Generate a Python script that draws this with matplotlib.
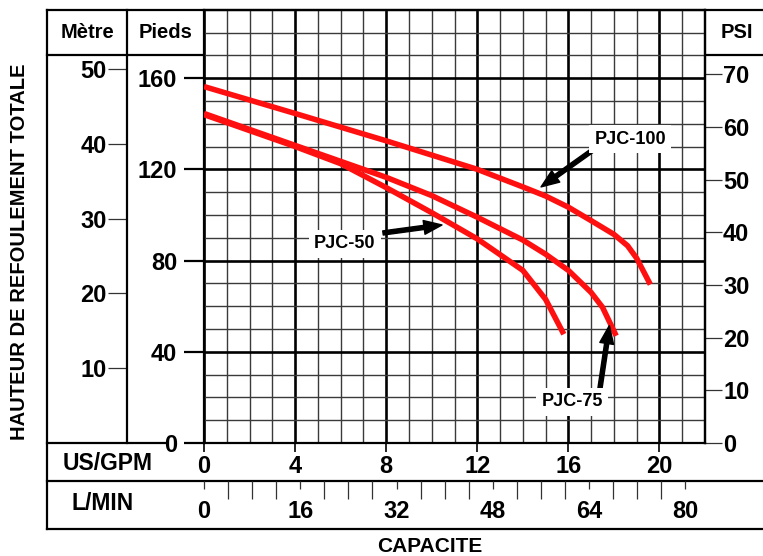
import matplotlib
matplotlib.use('Agg')
import matplotlib.pyplot as plt
from matplotlib.ticker import MultipleLocator

plt.rcParams['font.family'] = ['Liberation Sans', 'DejaVu Sans']
plt.rcParams['font.weight'] = 'bold'

# pump curves: capacity in US GPM, head in feet
gpm_100 = [0, 4, 8, 12, 14, 15, 16, 17, 18, 18.6, 19, 19.6]
ft_100 = [156.3, 144.5, 132.5, 120, 112.3, 108.3, 103.4, 97.5, 91.5, 86.5, 81, 69.5]
gpm_75 = [0, 4, 6, 8, 10, 12, 14, 15, 16, 17, 17.5, 18.1]
ft_75 = [144.5, 130.5, 123.5, 116.5, 108.5, 99, 89, 82.8, 75.7, 66, 59.5, 47]
gpm_50 = [0, 4, 6, 8, 10, 12, 14, 15, 15.8]
ft_50 = [144, 130, 122.5, 112, 101, 89.5, 75.7, 63, 47.7]

gpm_ticks = [0, 4, 8, 12, 16, 20]
ft_ticks = [0, 40, 80, 120, 160]
m_ticks = [10, 20, 30, 40, 50]
psi_ticks = [0, 10, 20, 30, 40, 50, 60, 70]
lpm_ticks = [0, 16, 32, 48, 64, 80]

FT_PER_M = 3.281
FT_PER_PSI = 2.31
LPM_PER_GPM = 3.785

# layout in pixels
W, H = 763, 556
L, R, B, T = 204, 705, 443, 9.7

fig = plt.figure(figsize=(W / 100, H / 100), dpi=100)

# frame / table lines and labels drawn in pixel space
ov = fig.add_axes([0, 0, 1, 1], zorder=-1)
ov.set_xlim(0, W)
ov.set_ylim(H, 0)
ov.axis('off')
lk = dict(color='black', lw=1.6, solid_capstyle='projecting')
ov.plot([47, W], [T, T], **lk)
ov.plot([47, 47], [T, 528.5], **lk)
ov.plot([47, L], [55, 55], **lk)
ov.plot([R, W], [55, 55], **lk)
ov.plot([47, 165], [B, B], **lk)
ov.plot([47, W], [481, 481], **lk)
ov.plot([47, W], [528.5, 528.5], **lk)

ov.text(87, 33, 'Mètre', fontsize=14.5, ha='center', va='center')
ov.text(166, 33, 'Pieds', fontsize=14.5, ha='center', va='center')
ov.text(737, 32, 'PSI', fontsize=14.5, ha='center', va='center')
ov.text(108, 463, 'US/GPM', fontsize=16.5, ha='center', va='center')
ov.text(102.5, 503, 'L/MIN', fontsize=16.5, ha='center', va='center')
ov.text(430, 547, 'CAPACITE', fontsize=15, ha='center', va='center')
ov.text(20, 251.5, 'HAUTEUR DE REFOULEMENT TOTALE', fontsize=14.5,
        ha='center', va='center', rotation=90)

# main plot
ax = fig.add_axes([L / W, 1 - B / H, (R - L) / W, (B - T) / H])
ax.set_xlim(0, 22)
ax.set_ylim(0, 190)
ax.set_xticks(gpm_ticks)
ax.set_yticks(ft_ticks)
ax.xaxis.set_minor_locator(MultipleLocator(1))
ax.yaxis.set_minor_locator(MultipleLocator(10))
ax.set_axisbelow(True)
ax.grid(which='major', color='black', lw=1.9)
ax.grid(which='minor', color='#3a3a3a', lw=1.0)
ax.tick_params(which='minor', length=0)
ax.tick_params(axis='y', which='major', direction='out', length=14.4,
               width=1.6, pad=5, labelsize=17)
ax.tick_params(axis='x', which='major', direction='out', length=6.5,
               width=1.2, pad=2, labelsize=17)
for s in ax.spines.values():
    s.set_linewidth(1.6)

red = dict(color='#ff1010', lw=4, solid_capstyle='butt', zorder=3)
ax.plot(gpm_100, ft_100, **red)
ax.plot(gpm_75, ft_75, **red)
ax.plot(gpm_50, ft_50, **red)

# metre scale
sec_m = ax.secondary_yaxis((127 - L) / (R - L),
                           functions=(lambda f: f / FT_PER_M, lambda m: m * FT_PER_M))
sec_m.set_yticks(m_ticks)
sec_m.tick_params(direction='out', length=13.7, width=0.9, pad=1,
                  labelsize=17, color='#333333')
sec_m.spines['left'].set_linewidth(1.6)

# psi scale
sec_p = ax.secondary_yaxis('right',
                           functions=(lambda f: f / FT_PER_PSI, lambda p: p * FT_PER_PSI))
sec_p.set_yticks(psi_ticks)
sec_p.tick_params(direction='out', length=12, width=0.9, pad=1,
                  labelsize=17, color='#333333')
sec_p.spines['right'].set_linewidth(1.6)

# litres per minute scale
sec_l = ax.secondary_xaxis((B - 481) / (B - T),
                           functions=(lambda g: g * LPM_PER_GPM, lambda l: l / LPM_PER_GPM))
sec_l.set_xticks(lpm_ticks)
sec_l.xaxis.set_minor_locator(MultipleLocator(4))
sec_l.tick_params(which='major', direction='out', length=5.8, width=0.9,
                  pad=8, labelsize=17, color='#333333')
sec_l.tick_params(which='minor', direction='out', length=13, width=0.9,
                  color='#333333')
sec_l.spines['bottom'].set_visible(False)

# labels with arrows
arrow = dict(facecolor='black', edgecolor='black', width=3, headwidth=10,
             headlength=13, shrink=0)
box = dict(facecolor='white', edgecolor='none', boxstyle='square,pad=0.3')

ax.annotate('', xy=(14.8, 112.3), xytext=(17.08, 128.5), arrowprops=arrow, zorder=4)
ax.text(18.71, 133.3, 'PJC-100', fontsize=13, ha='center', va='center', bbox=box, zorder=5)

ax.annotate('', xy=(10.45, 95.6), xytext=(7.86, 92.1), arrowprops=arrow, zorder=4)
ax.text(6.19, 87.3, 'PJC-50', fontsize=13, ha='center', va='center', bbox=box, zorder=5)

ax.annotate('', xy=(17.8, 51.5), xytext=(17.39, 24.1), arrowprops=arrow, zorder=4)
ax.text(16.16, 18.0, 'PJC-75', fontsize=13, ha='center', va='center', bbox=box, zorder=5)

fig.savefig('out.png', dpi=100)
